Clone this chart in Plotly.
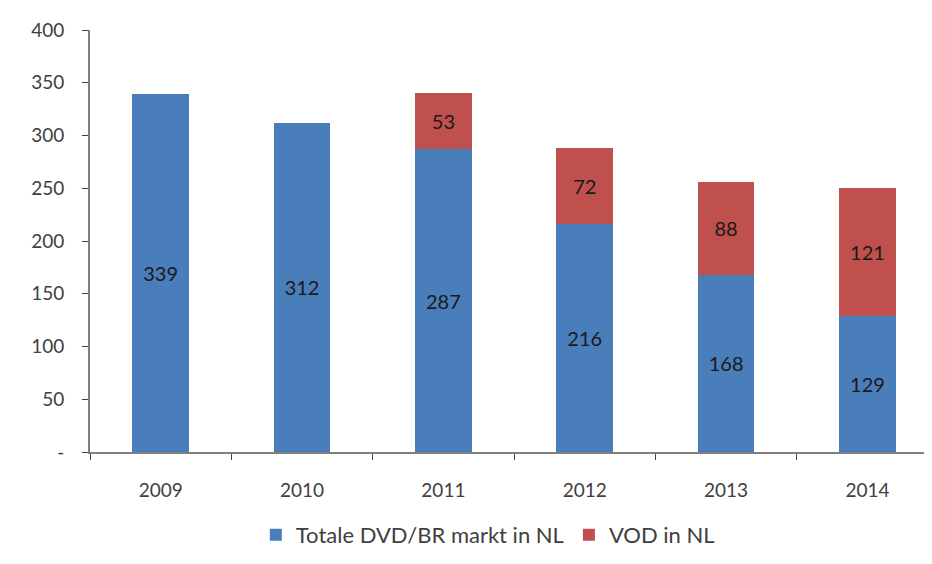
import plotly.graph_objects as go

years = ["2009", "2010", "2011", "2012", "2013", "2014"]
dvd_br = [339, 312, 287, 216, 168, 129]
vod = [None, None, 53, 72, 88, 121]
ytick_vals = [0, 50, 100, 150, 200, 250, 300, 350, 400]
ytick_text = ["-", "50", "100", "150", "200", "250", "300", "350", "400"]

FONT = "Lato"
blue = "#4A7EBB"
red = "#C0504D"

fig = go.Figure()
fig.add_trace(go.Bar(
    x=years, y=dvd_br, name="Totale DVD/BR markt in NL",
    marker=dict(color=blue, line=dict(width=0)),
    text=[str(v) for v in dvd_br], textposition="inside", insidetextanchor="middle",
    textfont=dict(family=FONT, size=20, color="#1a1a1a"),
    width=0.40,
))
fig.add_trace(go.Bar(
    x=years, y=vod, name="VOD in NL",
    marker=dict(color=red, line=dict(width=0)),
    text=["" if v is None else str(v) for v in vod], textposition="inside", insidetextanchor="middle",
    textfont=dict(family=FONT, size=20, color="#1a1a1a"),
    width=0.40,
))

fig.update_layout(
    barmode="stack",
    width=916, height=548,
    margin=dict(l=82, r=0, t=22, b=103),
    paper_bgcolor="white", plot_bgcolor="white",
    font=dict(family=FONT, size=19, color="#404040"),
    uniformtext=dict(mode="show", minsize=10),
    legend=dict(orientation="h", x=0.477, xanchor="center", y=-0.198, yanchor="middle",
                font=dict(family=FONT, size=22, color="#404040"), traceorder="normal",
                itemwidth=30),
    xaxis=dict(
        range=[-0.5, 5.40], showline=True, linecolor="#7f7f7f", linewidth=2,
        ticks="outside", tickson="boundaries", ticklen=6, tickcolor="#404040", tickwidth=1,
        showgrid=False, tickfont=dict(family=FONT, size=19, color="#404040"),
        zeroline=False, ticklabelstandoff=20,
    ),
    yaxis=dict(
        range=[0, 400], tickvals=ytick_vals, ticktext=ytick_text,
        showline=True, linecolor="#7f7f7f", linewidth=2,
        ticks="outside", ticklen=6, tickcolor="#404040", tickwidth=1,
        showgrid=False, zeroline=False, ticklabelstandoff=14,
        tickfont=dict(family=FONT, size=19, color="#404040"),
    ),
)

fig.write_html("out.html")
